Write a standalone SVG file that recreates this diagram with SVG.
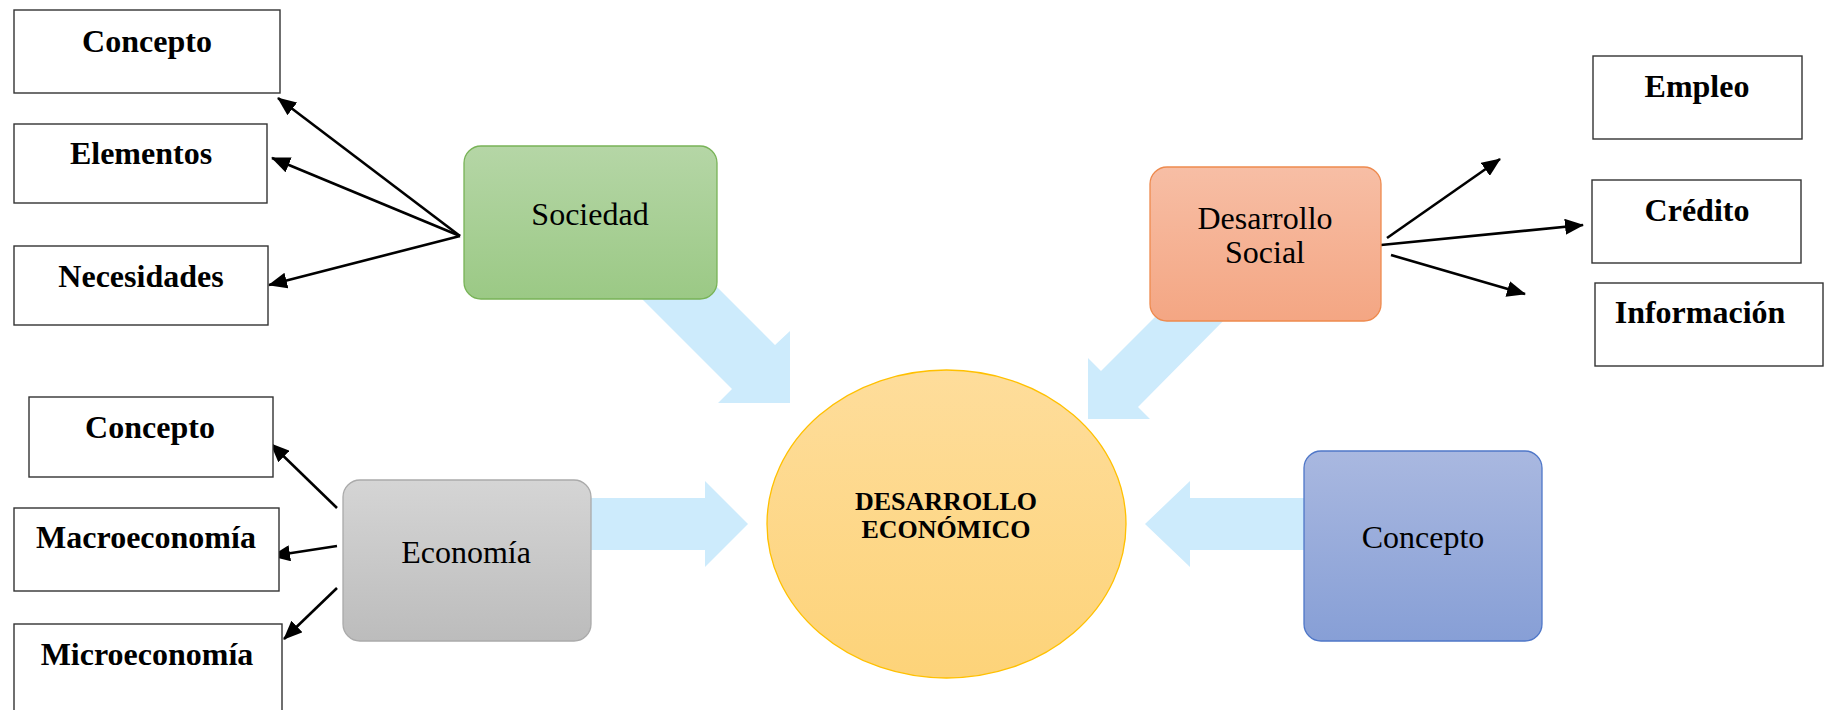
<svg xmlns="http://www.w3.org/2000/svg" width="1828" height="710" viewBox="0 0 1828 710">
<defs>
<style>
.box{fill:#fff;stroke:#333;stroke-width:1.4}
.bl{font-family:"Liberation Serif","Times New Roman",serif;font-weight:bold;font-size:32px;fill:#000;text-anchor:middle}
.nl{font-family:"Liberation Serif","Times New Roman",serif;font-size:32px;fill:#000;text-anchor:middle}
.el{font-family:"Liberation Serif","Times New Roman",serif;font-weight:bold;font-size:26px;fill:#000;text-anchor:middle}
.fat{fill:#CDEBFC}
.ln{stroke:#000;stroke-width:2.6;fill:none;marker-end:url(#ah)}
</style>
<marker id="ah" markerUnits="userSpaceOnUse" markerWidth="20" markerHeight="16" refX="18" refY="8" orient="auto">
<path d="M0,0 L19,8 L0,16 z" fill="#000"/>
</marker>
<linearGradient id="gG" x1="0" y1="0" x2="0" y2="1"><stop offset="0" stop-color="#B5D6A6"/><stop offset="1" stop-color="#9BC985"/></linearGradient>
<linearGradient id="gO" x1="0" y1="0" x2="0" y2="1"><stop offset="0" stop-color="#F7BEA5"/><stop offset="1" stop-color="#F4A683"/></linearGradient>
<linearGradient id="gR" x1="0" y1="0" x2="0" y2="1"><stop offset="0" stop-color="#D5D5D5"/><stop offset="1" stop-color="#BCBCBC"/></linearGradient>
<linearGradient id="gB" x1="0" y1="0" x2="0" y2="1"><stop offset="0" stop-color="#A9B8E0"/><stop offset="1" stop-color="#879FD6"/></linearGradient>
<linearGradient id="gY" x1="0" y1="0" x2="0" y2="1"><stop offset="0" stop-color="#FEDD9B"/><stop offset="1" stop-color="#FDD379"/></linearGradient>
</defs>

<g id="fat-arrows">
<polygon class="fat" points="623,280 732,389 718,403 790,403 790,331 775,345 710,280"/>
<polygon class="fat" points="1162,310 1101,371 1088,358 1088,419 1150,419 1138,407 1234,310"/>
<polygon class="fat" points="585,498 705,498 705,481 748,524 705,567 705,550 585,550"/>
<polygon class="fat" points="1310,498 1190,498 1190,481 1145,524 1190,567 1190,550 1310,550"/>
</g>

<g id="connectors">
<line class="ln" x1="460" y1="236" x2="278" y2="98"/>
<line class="ln" x1="460" y1="236" x2="272" y2="158"/>
<line class="ln" x1="460" y1="236" x2="269" y2="285"/>
<line class="ln" x1="1387" y1="238" x2="1500" y2="159"/>
<line class="ln" x1="1381" y1="245" x2="1583" y2="225"/>
<line class="ln" x1="1391" y1="255" x2="1525" y2="294"/>
<line class="ln" x1="337" y1="508" x2="271" y2="444"/>
<line class="ln" x1="337" y1="546" x2="272" y2="556"/>
<line class="ln" x1="337" y1="588" x2="284" y2="639"/>
</g>

<g id="n-concepto1"><rect class="box" x="14" y="10" width="266" height="83"/><text class="bl" x="147" y="52">Concepto</text></g>
<g id="n-elementos"><rect class="box" x="14" y="124" width="253" height="79"/><text class="bl" x="141" y="164">Elementos</text></g>
<g id="n-necesidades"><rect class="box" x="14" y="246" width="254" height="79"/><text class="bl" x="141" y="287">Necesidades</text></g>

<g id="n-concepto2"><rect class="box" x="29" y="397" width="244" height="80"/><text class="bl" x="150" y="438">Concepto</text></g>
<g id="n-macro"><rect class="box" x="14" y="508" width="265" height="83"/><text class="bl" x="146" y="548">Macroeconomía</text></g>
<g id="n-micro"><rect class="box" x="14" y="624" width="268" height="100"/><text class="bl" x="147" y="665">Microeconomía</text></g>

<g id="n-empleo"><rect class="box" x="1593" y="56" width="209" height="83"/><text class="bl" x="1697" y="97">Empleo</text></g>
<g id="n-credito"><rect class="box" x="1592" y="180" width="209" height="83"/><text class="bl" x="1697" y="221">Crédito</text></g>
<g id="n-informacion"><rect class="box" x="1595" y="283" width="228" height="83"/><text class="bl" x="1700" y="323">Información</text></g>

<g id="n-sociedad"><rect x="464" y="146" width="253" height="153" rx="17" fill="url(#gG)" stroke="#78B357" stroke-width="1.3"/><text class="nl" x="590" y="225">Sociedad</text></g>
<g id="n-dsocial"><rect x="1150" y="167" width="231" height="154" rx="17" fill="url(#gO)" stroke="#EE8A4E" stroke-width="1.3"/><text class="nl" x="1265" y="229">Desarrollo</text><text class="nl" x="1265" y="263">Social</text></g>
<g id="n-economia"><rect x="343" y="480" width="248" height="161" rx="17" fill="url(#gR)" stroke="#AAAAAA" stroke-width="1.3"/><text class="nl" x="466" y="563">Economía</text></g>
<g id="n-concepto3"><rect x="1304" y="451" width="238" height="190" rx="17" fill="url(#gB)" stroke="#4F77C8" stroke-width="1.3"/><text class="nl" x="1423" y="548">Concepto</text></g>

<g id="n-center"><ellipse cx="946.5" cy="524" rx="179.5" ry="154" fill="url(#gY)" stroke="#FFC000" stroke-width="1.3"/><text class="el" x="946" y="510">DESARROLLO</text><text class="el" x="946" y="538">ECONÓMICO</text></g>
</svg>
